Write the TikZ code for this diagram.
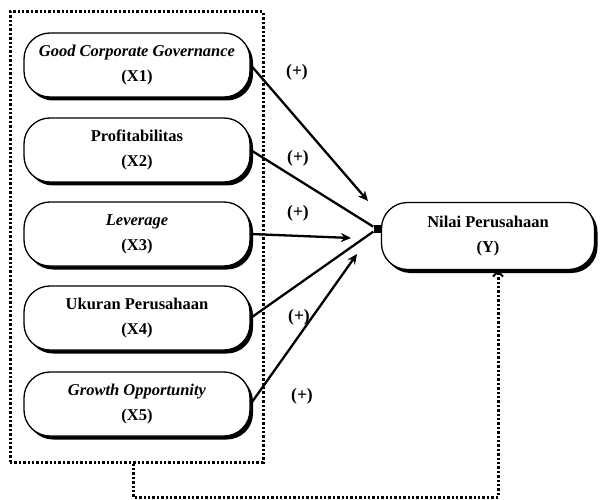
\documentclass[tikz,border=0pt]{standalone}
\usepackage{fontspec}
\setmainfont{Liberation Serif}
\usetikzlibrary{shadows,arrows.meta}
\begin{document}
\begin{tikzpicture}[x=1pt, y=-1pt, >={Stealth[length=10pt,width=9pt]},
  var/.style={draw, line width=1.3pt, rounded corners=26pt, fill=white,
    minimum width=226pt, minimum height=64pt, align=center,
    font=\fontsize{16.5}{25}\selectfont\bfseries,
    drop shadow={shadow xshift=3pt, shadow yshift=-3.5pt, fill=black, opacity=1}},
  sign/.style={font=\fontsize{17.5}{20}\selectfont\bfseries},
  link/.style={line width=2.3pt},
  fb/.style={line width=3pt, dash pattern=on 2.4pt off 2pt}]
  \useasboundingbox (0,0) rectangle (600,500);

  % Kerangka variabel independen
  \node[fb, draw, minimum width=253pt, minimum height=450pt] (frame) at (136.5,237) {};

  % Variabel X
  \node[var] (x1) at (137,65) {\textit{Good Corporate Governance}\\(X1)};
  \node[var] (x2) at (137,150) {Profitabilitas\\(X2)};
  \node[var] (x3) at (137,234) {\textit{Leverage}\\(X3)};
  \node[var] (x4) at (137,318) {Ukuran Perusahaan\\(X4)};
  \node[var] (x5) at (137,404) {\textit{Growth Opportunity}\\(X5)};

  % Variabel Y
  \node[var, minimum width=213pt, minimum height=67pt] (y) at (488,236) {Nilai Perusahaan\\(Y)};
  \node[fill=black, inner sep=0pt, minimum width=7pt, minimum height=8pt] (hub) at (377,229) {};

  % Ujung panah
  \coordinate (t1) at (368,201);
  \coordinate (t3) at (351,238);
  \coordinate (t5) at (357,254);
  \coordinate (low) at (498,497);

  % Hubungan
  \draw[link, ->] (x1.east) -- (t1);
  \draw[link] (x2.east) -- (hub);
  \draw[link, ->] (x3.east) -- (t3);
  \draw[link] (x4.east) -- (hub);
  \draw[link, ->] (x5.east) -- (t5);

  % Tanda
  \node[sign] (p1) at (297,72) {(+)};
  \node[sign] (p2) at (298,158) {(+)};
  \node[sign] (p3) at (298,213) {(+)};
  \node[sign] (p4) at (299,317) {(+)};
  \node[sign] (p5) at (302,396) {(+)};

  % Simultan
  \draw[fb, -{Straight Barb[length=5pt,width=10pt,line width=2pt]}]
    ([xshift=-3.5pt]frame.south) |- (low) -- (low |- y.south);
\end{tikzpicture}
\end{document}
